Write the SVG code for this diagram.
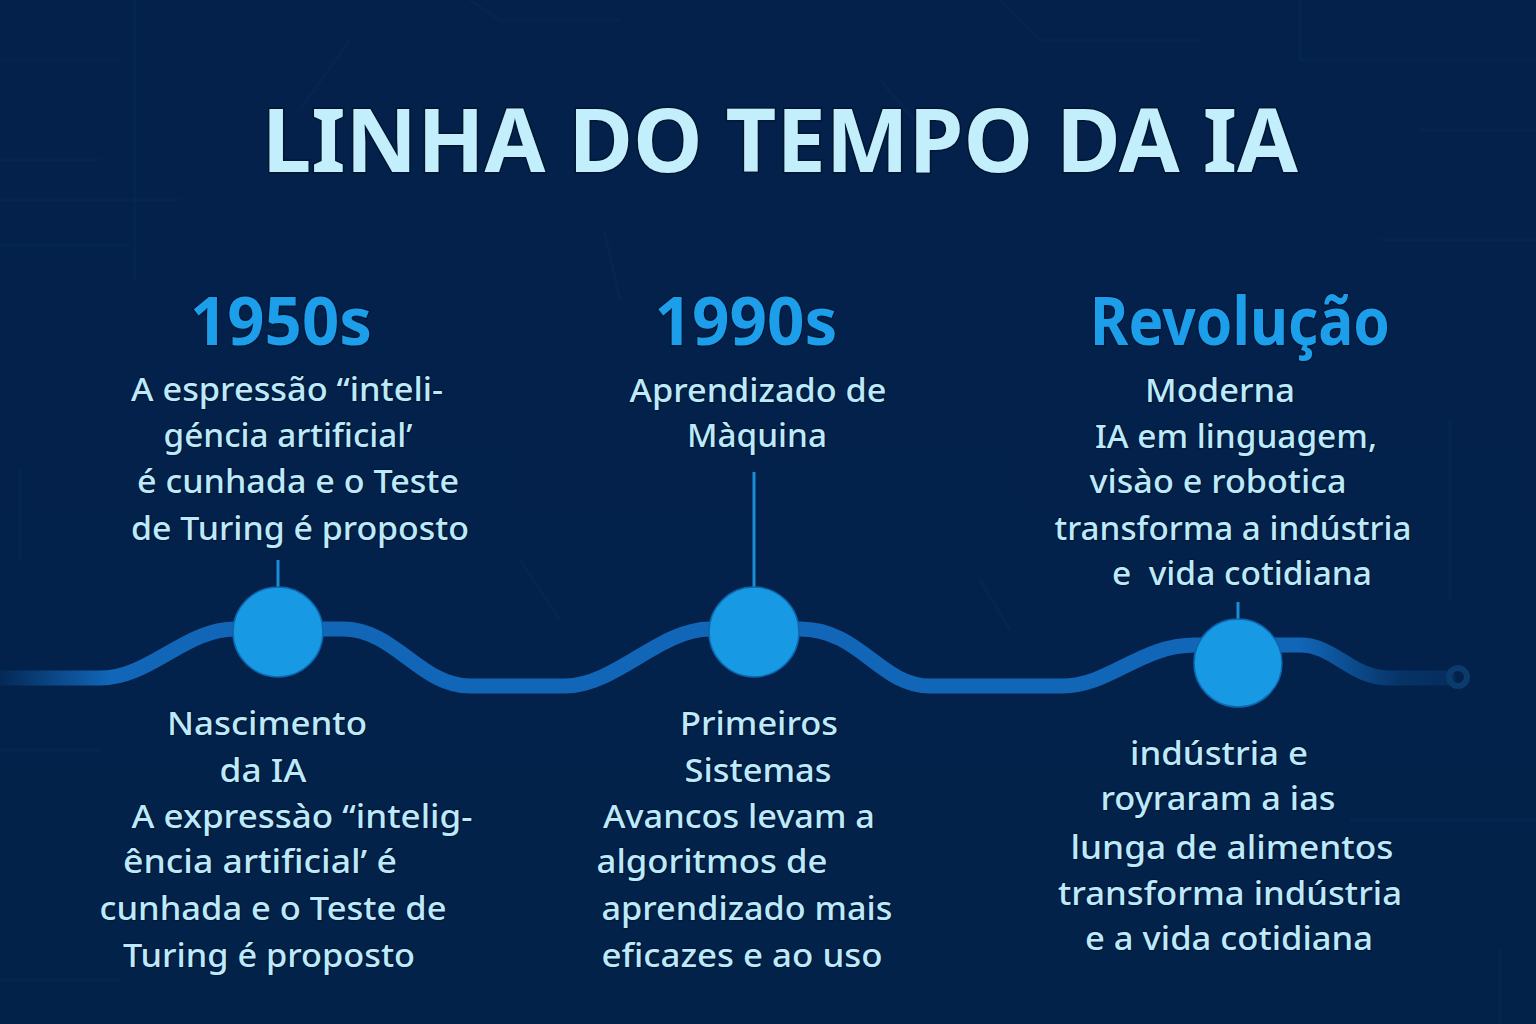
<svg xmlns="http://www.w3.org/2000/svg" width="1536" height="1024" viewBox="0 0 1536 1024">
<defs>
<linearGradient id="bg" x1="0" y1="0" x2="0" y2="1">
<stop offset="0" stop-color="#03214b"/>
<stop offset="1" stop-color="#03224a"/>
</linearGradient>
<linearGradient id="lineGrad" gradientUnits="userSpaceOnUse" x1="0" y1="0" x2="1460" y2="0">
<stop offset="0" stop-color="#1166b8" stop-opacity="0.1"/>
<stop offset="0.075" stop-color="#1166b8" stop-opacity="1"/>
<stop offset="0.89" stop-color="#1166b8" stop-opacity="1"/>
<stop offset="0.96" stop-color="#1166b8" stop-opacity="0.25"/>
<stop offset="1" stop-color="#1166b8" stop-opacity="0.15"/>
</linearGradient>
<style>
.title{font-family:"Noto Sans","DejaVu Sans",sans-serif;font-weight:700;font-size:88px;fill:#c3eefc;stroke:#011630;stroke-width:3;paint-order:stroke;}
.head{font-family:"Noto Sans","DejaVu Sans",sans-serif;font-weight:700;font-size:67px;fill:#1d9eea;stroke:#021a3a;stroke-width:3;paint-order:stroke;text-anchor:middle;}
.body{font-family:"Noto Sans","DejaVu Sans",sans-serif;font-weight:500;font-size:33px;fill:#bdeafa;stroke:#021a3a;stroke-width:2.5;paint-order:stroke;text-anchor:middle;}
.circ{fill:#1899e3;stroke:#0d66b0;stroke-width:1.5;}
.stem{stroke:#1a8fd8;stroke-width:3;}
.bgline{stroke:#0a2e5c;stroke-width:3;fill:none;opacity:0.35;}
</style>
</defs>
<rect width="1536" height="1024" fill="url(#bg)"/>
<g id="background-circuits">
<path class="bgline" d="M135 0 V280"/>
<path class="bgline" d="M0 60 H120"/>
<path class="bgline" d="M0 160 H100"/>
<path class="bgline" d="M0 245 H130"/>
<path class="bgline" d="M0 200 H180"/>
<path class="bgline" d="M350 40 L300 110"/>
<path class="bgline" d="M470 0 L500 20 H620"/>
<path class="bgline" d="M330 310 L290 330 H250"/>
<path class="bgline" d="M604 230 L620 300"/>
<path class="bgline" d="M1000 0 L1040 40 H1200"/>
<path class="bgline" d="M1300 0 V60 H1536"/>
<path class="bgline" d="M1420 130 H1536"/>
<path class="bgline" d="M1380 240 H1536"/>
<path class="bgline" d="M880 80 L940 150"/>
<path class="bgline" d="M20 470 V560"/>
<path class="bgline" d="M0 750 H100"/>
<path class="bgline" d="M1450 420 V600"/>
<path class="bgline" d="M1350 820 H1536"/>
<path class="bgline" d="M1500 950 V1024"/>
<path class="bgline" d="M0 980 H120"/>
<path class="bgline" d="M980 580 L1010 630"/>
<path class="bgline" d="M520 560 L560 620"/>
</g>
<g id="title">
<text class="title" x="780" y="172" text-anchor="middle" textLength="1036" lengthAdjust="spacingAndGlyphs">LINHA DO TEMPO DA IA</text>
</g>
<g id="connectors">
<path d="M0 678 L100 678 C150 678 185 629 235 629 L343 629 C395 629 420 686 470 686 L565 686 C615 686 660 629 710 629 L800 629 C860 629 880 686 930 686 L1062 686 C1110 686 1140 645 1195 645 L1300 645 C1335 645 1350 678 1390 678 L1448 678" fill="none" stroke="url(#lineGrad)" stroke-width="15" stroke-linecap="round"/>
<circle cx="1458" cy="677" r="9" fill="none" stroke="#0b3a6c" stroke-width="6"/>
<line class="stem" x1="278" y1="560" x2="278" y2="590"/>
<line class="stem" x1="754" y1="472" x2="754" y2="590"/>
<line class="stem" x1="1238" y1="602" x2="1238" y2="620"/>
</g>
<g id="node-1950s">
<circle class="circ" cx="278" cy="632" r="45"/>
<text class="head" x="281" y="345" textLength="182" lengthAdjust="spacingAndGlyphs">1950s</text>
<text class="body" x="287" y="401" textLength="312" lengthAdjust="spacingAndGlyphs">A espressão “inteli-</text>
<text class="body" x="288" y="447" textLength="249" lengthAdjust="spacingAndGlyphs">géncia artificial’</text>
<text class="body" x="298" y="493" textLength="322" lengthAdjust="spacingAndGlyphs">é cunhada e o Teste</text>
<text class="body" x="300" y="540" textLength="338" lengthAdjust="spacingAndGlyphs">de Turing é proposto</text>
<text class="body" x="267" y="735" textLength="200" lengthAdjust="spacingAndGlyphs">Nascimento</text>
<text class="body" x="263" y="782" textLength="87" lengthAdjust="spacingAndGlyphs">da IA</text>
<text class="body" x="302" y="828" textLength="341" lengthAdjust="spacingAndGlyphs">A expressào “intelig-</text>
<text class="body" x="260" y="873" textLength="274" lengthAdjust="spacingAndGlyphs">ência artificial’ é</text>
<text class="body" x="273" y="920" textLength="347" lengthAdjust="spacingAndGlyphs">cunhada e o Teste de</text>
<text class="body" x="269" y="967" textLength="292" lengthAdjust="spacingAndGlyphs">Turing é proposto</text>
</g>
<g id="node-1990s">
<circle class="circ" cx="754" cy="632" r="45"/>
<text class="head" x="746" y="345" textLength="183" lengthAdjust="spacingAndGlyphs">1990s</text>
<text class="body" x="758" y="402" textLength="257" lengthAdjust="spacingAndGlyphs">Aprendizado de</text>
<text class="body" x="757" y="447" textLength="140" lengthAdjust="spacingAndGlyphs">Màquina</text>
<text class="body" x="759" y="735" textLength="158" lengthAdjust="spacingAndGlyphs">Primeiros</text>
<text class="body" x="758" y="782" textLength="147" lengthAdjust="spacingAndGlyphs">Sistemas</text>
<text class="body" x="739" y="828" textLength="272" lengthAdjust="spacingAndGlyphs">Avancos levam a</text>
<text class="body" x="712" y="873" textLength="231" lengthAdjust="spacingAndGlyphs">algoritmos de</text>
<text class="body" x="747" y="920" textLength="291" lengthAdjust="spacingAndGlyphs">aprendizado mais</text>
<text class="body" x="742" y="967" textLength="281" lengthAdjust="spacingAndGlyphs">eficazes e ao uso</text>
</g>
<g id="node-revolucao">
<circle class="circ" cx="1238" cy="663" r="44"/>
<text class="head" x="1240" y="345" textLength="300" lengthAdjust="spacingAndGlyphs">Revolução</text>
<text class="body" x="1220" y="402" textLength="150" lengthAdjust="spacingAndGlyphs">Moderna</text>
<text class="body" x="1236" y="448" textLength="282" lengthAdjust="spacingAndGlyphs">IA em linguagem,</text>
<text class="body" x="1218" y="493" textLength="257" lengthAdjust="spacingAndGlyphs">visào e robotica</text>
<text class="body" x="1233" y="540" textLength="357" lengthAdjust="spacingAndGlyphs">transforma a indústria</text>
<text class="body" x="1242" y="585" textLength="260" lengthAdjust="spacingAndGlyphs" xml:space="preserve">e  vida cotidiana</text>
<text class="body" x="1219" y="765" textLength="178" lengthAdjust="spacingAndGlyphs">indústria e</text>
<text class="body" x="1218" y="810" textLength="235" lengthAdjust="spacingAndGlyphs">royraram a ias</text>
<text class="body" x="1232" y="859" textLength="323" lengthAdjust="spacingAndGlyphs">lunga de alimentos</text>
<text class="body" x="1230" y="905" textLength="344" lengthAdjust="spacingAndGlyphs">transforma indústria</text>
<text class="body" x="1229" y="950" textLength="288" lengthAdjust="spacingAndGlyphs">e a vida cotidiana</text>
</g>
</svg>
